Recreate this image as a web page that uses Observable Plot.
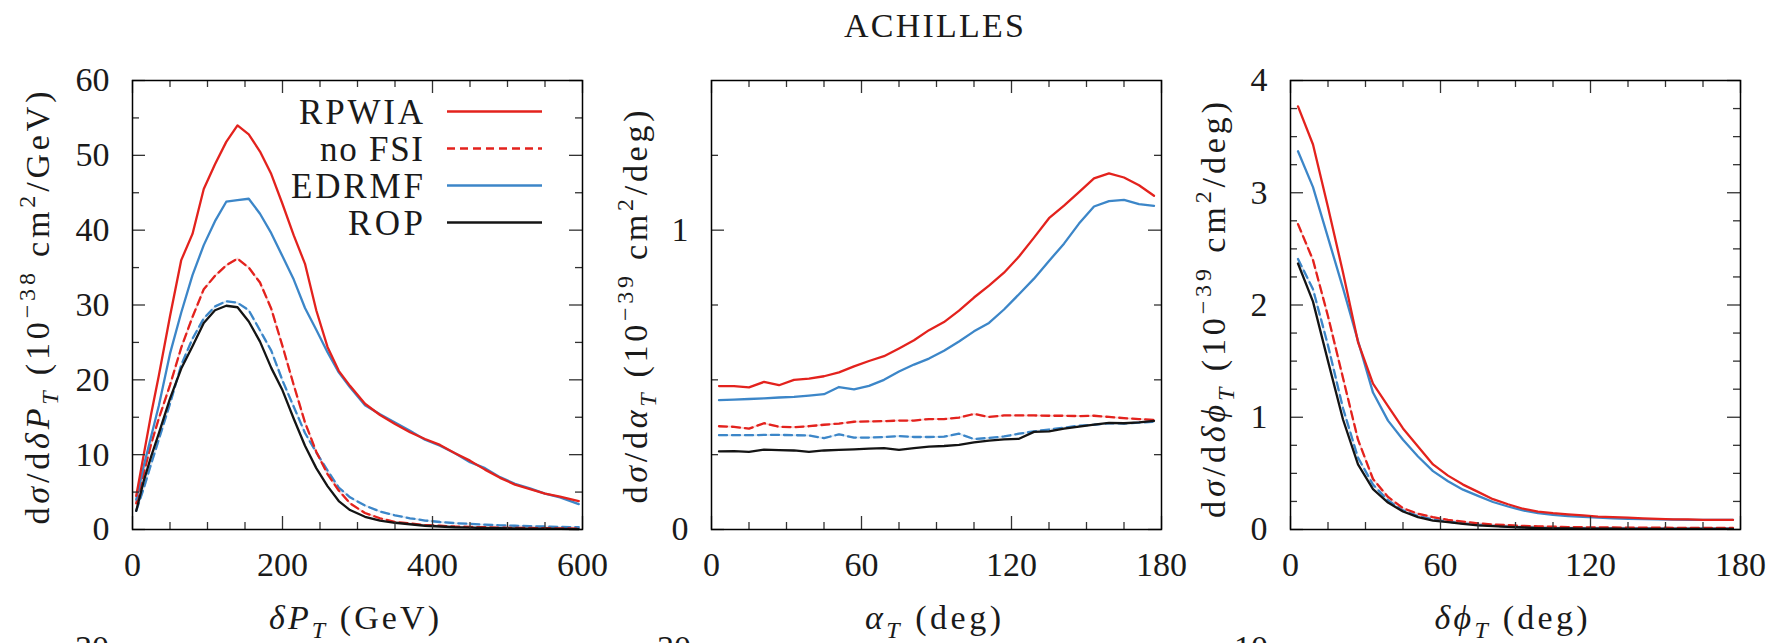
<!DOCTYPE html>
<html>
<head>
<meta charset="utf-8">
<script src="https://cdn.jsdelivr.net/npm/d3@7"></script>
<script src="https://cdn.jsdelivr.net/npm/@observablehq/plot@0.6"></script>
<style>
  html, body { margin: 0; padding: 0; background: #fff; }
  #fig { position: relative; width: 1766px; height: 643px; overflow: hidden; background: #fff; }
  #fig svg text, #fig svg tspan { font-family: "Liberation Serif", serif !important; }
</style>
</head>
<body>
<div id="fig"></div>
<script>
// ---------------- data ----------------
// Panel 1: delta P_T (GeV)
const ptX = [5,15,25,35,50,65,80,95,110,125,140,155,170,185,200,215,230,245,260,275,290,310,330,350,370,390,410,430,450,470,490,510,530,550,570,595];
const ptRPWIA = [4.5,10,15.5,20.5,28.5,36,39.5,45.5,48.8,51.8,54,52.8,50.5,47.5,43.5,39.3,35.5,29.3,24.4,21.2,19.2,16.8,15.3,14.1,13.0,12.1,11.3,10.2,9.2,8.0,6.9,6.0,5.4,4.8,4.4,3.8];
const ptNoFSI = [3.5,7.5,11.5,14.8,19.3,24.3,28.4,32.1,33.9,35.3,36.2,35.0,33.0,29.5,24.5,19.3,14.3,10.4,7.4,5.2,3.5,2.2,1.5,1.0,0.8,0.6,0.5,0.4,0.35,0.3,0.25,0.22,0.2,0.18,0.15,0.12];
const ptEDRMF = [4,8.5,12.5,16.5,23.5,29,34,38,41.2,43.8,44.0,44.2,42.2,39.6,36.5,33.4,29.6,26.7,23.7,21.0,19,16.6,15.4,14.3,13.2,12.0,11.2,10.2,9.0,8.2,7.0,6.1,5.5,4.8,4.3,3.4];
const ptEDRMFnoFSI = [2.5,5.5,8.8,12,16.8,22,25.5,28.2,29.8,30.5,30.3,29.3,26.6,23.9,19.9,16.4,12.9,10.3,7.9,5.6,4.3,3.2,2.4,1.9,1.5,1.2,1.0,0.85,0.75,0.65,0.55,0.5,0.45,0.4,0.35,0.3];
const ptROP = [2.5,6.5,9.8,12.8,17.5,21.5,24.5,27.6,29.3,29.9,29.7,27.8,25.1,21.6,18.6,14.8,11.2,8.2,5.8,3.8,2.6,1.7,1.2,0.9,0.7,0.5,0.4,0.3,0.25,0.2,0.17,0.14,0.12,0.1,0.08,0.06];

// Panel 2: alpha_T (deg)
const aX = [3,9,15,21,27,33,39,45,51,57,63,69,75,81,87,93,99,105,111,117,123,129,135,141,147,153,159,165,171,177];
const aRPWIA = [0.479,0.479,0.475,0.493,0.482,0.500,0.504,0.512,0.525,0.545,0.563,0.579,0.605,0.632,0.666,0.693,0.731,0.775,0.815,0.858,0.912,0.975,1.040,1.082,1.127,1.173,1.190,1.176,1.150,1.115];
const aNoFSI = [0.345,0.343,0.337,0.355,0.343,0.342,0.345,0.350,0.354,0.360,0.361,0.362,0.364,0.364,0.369,0.369,0.374,0.386,0.376,0.381,0.381,0.381,0.380,0.380,0.379,0.380,0.376,0.372,0.369,0.366];
const aEDRMF = [0.432,0.434,0.436,0.438,0.441,0.443,0.447,0.452,0.476,0.468,0.480,0.500,0.528,0.551,0.571,0.597,0.628,0.662,0.690,0.735,0.786,0.838,0.897,0.955,1.022,1.079,1.097,1.101,1.087,1.081];
const aEDRMFnoFSI = [0.315,0.315,0.315,0.316,0.316,0.315,0.314,0.305,0.318,0.307,0.307,0.309,0.312,0.309,0.309,0.310,0.320,0.302,0.306,0.311,0.320,0.328,0.334,0.340,0.347,0.350,0.355,0.354,0.357,0.360];
const aROP = [0.261,0.262,0.259,0.267,0.265,0.264,0.259,0.264,0.266,0.268,0.270,0.272,0.266,0.272,0.277,0.279,0.283,0.291,0.297,0.301,0.303,0.326,0.328,0.337,0.344,0.350,0.356,0.355,0.358,0.363];

// Panel 3: delta phi_T (deg)
const pX = [3,9,15,21,27,33,39,45,51,57,63,69,75,81,87,93,99,105,111,117,123,129,135,141,147,153,159,165,171,177];
const pRPWIA = [3.77,3.43,2.87,2.29,1.67,1.30,1.10,0.90,0.74,0.58,0.48,0.40,0.335,0.27,0.225,0.185,0.16,0.145,0.135,0.125,0.115,0.11,0.105,0.1,0.095,0.09,0.09,0.085,0.085,0.085];
const pNoFSI = [2.72,2.40,1.90,1.35,0.80,0.45,0.29,0.19,0.14,0.11,0.085,0.07,0.055,0.045,0.038,0.032,0.028,0.025,0.022,0.02,0.019,0.018,0.017,0.016,0.016,0.015,0.015,0.015,0.014,0.014];
const pEDRMF = [3.37,3.05,2.60,2.15,1.68,1.22,0.97,0.80,0.65,0.52,0.43,0.355,0.30,0.245,0.205,0.17,0.145,0.13,0.12,0.112,0.105,0.1,0.095,0.092,0.09,0.088,0.086,0.085,0.085,0.085];
const pEDRMFnoFSI = [2.41,2.14,1.64,1.08,0.64,0.40,0.26,0.17,0.12,0.09,0.07,0.055,0.042,0.033,0.026,0.02,0.016,0.013,0.012,0.011,0.01,0.01,0.009,0.009,0.009,0.008,0.008,0.008,0.008,0.008];
const pROP = [2.37,2.03,1.50,0.98,0.58,0.36,0.24,0.16,0.11,0.08,0.065,0.05,0.037,0.03,0.024,0.018,0.013,0.01,0.009,0.008,0.007,0.007,0.006,0.006,0.005,0.005,0.005,0.005,0.005,0.005];

// tick values
const p1XMajor = [0,200,400,600];
const p1XMinor = [50,100,150,250,300,350,450,500,550];
const p1YMajor = [0,10,20,30,40,50,60];
const p1YMinor = [5,15,25,35,45,55];
const degXMajor = [0,60,120,180];
const degXMinor = [15,30,45,75,90,105,135,150,165];
const p2YMajor = [0,1];
const p2YMinor = [0.25,0.5,0.75,1.25];
const p3YMajor = [0,1,2,3,4];
const p3YMinor = [0.25,0.5,0.75,1.25,1.5,1.75,2.25,2.5,2.75,3.25,3.5,3.75];

const legendNames = ["RPWIA","no FSI","EDRMF","ROP"];
const titleText = "ACHILLES";

// ---------------- layout / style ----------------
const FONT = '"Liberation Serif", serif';
const W = 640, H = 643, ML = 132, MR = 58, MT = 80, MB = 114;
const FW = W - ML - MR, FH = H - MT - MB;
const RED = "#e3221d", BLUE = "#3c86c8", BLACK = "#141414";
const TXT = "#1a1a1a";
const LW = 2.3, DASH = "8,5";
const MAJ = 13, MIN = 7, TC = "#333", TW = 1.3;

const styleOf = {
  "RPWIA": {stroke: RED, dash: null},
  "no FSI": {stroke: RED, dash: DASH},
  "EDRMF": {stroke: BLUE, dash: null},
  "EDRMF no FSI": {stroke: BLUE, dash: DASH},
  "ROP": {stroke: BLACK, dash: null}
};
const drawOrder = ["EDRMF no FSI", "no FSI", "EDRMF", "RPWIA", "ROP"];

function seriesMarks(xs, ys) {
  const marks = [];
  for (const name of drawOrder) {
    const arr = ys[name];
    const rows = xs.map((xv, i) => ({x: xv, y: arr[i]}));
    const s = styleOf[name];
    if (s.dash) {
      marks.push(Plot.line(rows, {x: "x", y: "y", stroke: s.stroke, strokeWidth: 2, strokeOpacity: 0.18}));
      marks.push(Plot.line(rows, {x: "x", y: "y", stroke: s.stroke, strokeWidth: LW, strokeDasharray: s.dash}));
    } else {
      marks.push(Plot.line(rows, {x: "x", y: "y", stroke: s.stroke, strokeWidth: LW}));
    }
  }
  return marks;
}

function tickMarks(xMaj, xMin, yMaj, yMin) {
  const o = {stroke: TC, strokeWidth: TW};
  return [
    Plot.ruleX(xMaj, {...o, insetTop: FH - MAJ}),
    Plot.ruleX(xMaj, {...o, insetBottom: FH - MAJ}),
    Plot.ruleX(xMin, {...o, insetTop: FH - MIN}),
    Plot.ruleX(xMin, {...o, insetBottom: FH - MIN}),
    Plot.ruleY(yMaj, {...o, insetRight: FW - MAJ}),
    Plot.ruleY(yMaj, {...o, insetLeft: FW - MAJ}),
    Plot.ruleY(yMin, {...o, insetRight: FW - MIN}),
    Plot.ruleY(yMin, {...o, insetLeft: FW - MIN})
  ];
}

function rich(textSel, parts, size) {
  let shift = 0;
  for (const p of parts) {
    const target = p.sub ? 0.25 * size : p.sup ? -0.42 * size : 0;
    const ts = textSel.append("tspan").text(p.t);
    if (target !== shift) { ts.attr("dy", target - shift); shift = target; }
    if (p.sub || p.sup) ts.attr("font-size", Math.round(size * 0.7));
    if (p.i) ts.attr("font-style", "italic");
  }
}

function makePanel(cfg) {
  const svg = Plot.plot({
    width: W, height: H,
    marginLeft: ML, marginRight: MR, marginTop: MT, marginBottom: MB,
    x: {domain: cfg.xDomain},
    y: {domain: cfg.yDomain},
    style: {position: "absolute", left: cfg.left + "px", top: "0px", fontFamily: FONT, fontSize: "34px", color: TXT, background: "transparent"},
    marks: [
      ...seriesMarks(cfg.xs, cfg.ys),
      ...tickMarks(cfg.xMaj, cfg.xMin, cfg.yMaj, cfg.yMin),
      Plot.axisX(cfg.xMaj, {anchor: "bottom", tickSize: 0, tickPadding: 22, label: null, tickFormat: d => String(d), fill: TXT}),
      Plot.axisY(cfg.yMaj, {anchor: "left", tickSize: 0, tickPadding: 23, label: null, tickFormat: d => String(d), fill: TXT}),
      Plot.frame({stroke: "#000", strokeWidth: 1.5})
    ]
  });
  document.getElementById("fig").appendChild(svg);
  const g = d3.select(svg).append("g").attr("font-family", FONT).attr("fill", TXT);
  // y label (rotated)
  const yl = g.append("text")
    .attr("transform", `translate(${ML + cfg.yLabDx + 11},${cfg.yLabCy}) rotate(-90)`)
    .attr("text-anchor", "middle").attr("font-size", 34)
    .attr("textLength", cfg.yLabLen).attr("lengthAdjust", "spacing");
  rich(yl, cfg.yLab, 34);
  // x label
  const xl = g.append("text")
    .attr("x", ML + FW / 2 + cfg.xLabDx).attr("y", 629)
    .attr("text-anchor", "middle").attr("font-size", 34)
    .attr("textLength", cfg.xLabLen).attr("lengthAdjust", "spacing");
  rich(xl, cfg.xLab, 34);
  // top of the tick label of the row below, cut by the image edge as in the reference
  g.append("text").attr("x", ML - cfg.cutDx).attr("y", 659).attr("text-anchor", "end")
    .attr("font-size", 34).text(cfg.cutText);
  return {svg, g};
}

// ---------------- panels ----------------
const P1 = makePanel({
  left: 0, xDomain: [0, 600], yDomain: [0, 60],
  xs: ptX, ys: {"RPWIA": ptRPWIA, "no FSI": ptNoFSI, "EDRMF": ptEDRMF, "EDRMF no FSI": ptEDRMFnoFSI, "ROP": ptROP},
  xMaj: p1XMajor, xMin: p1XMinor, yMaj: p1YMajor, yMin: p1YMinor,
  yLabDx: -94, yLabCy: 308, yLabLen: 433,
  yLab: [{t: "d"}, {t: "σ", i: true}, {t: "/d"}, {t: "δP", i: true}, {t: "T", i: true, sub: true}, {t: " (10"}, {t: "−38", sup: true}, {t: " cm"}, {t: "2", sup: true}, {t: "/GeV)"}],
  xLabDx: -3, xLabLen: 170,
  xLab: [{t: "δP", i: true}, {t: "T", i: true, sub: true}, {t: " (GeV)"}],
  cutDx: 23, cutText: "30"
});

const P2 = makePanel({
  left: 579, xDomain: [0, 180], yDomain: [0, 1.5],
  xs: aX, ys: {"RPWIA": aRPWIA, "no FSI": aNoFSI, "EDRMF": aEDRMF, "EDRMF no FSI": aEDRMFnoFSI, "ROP": aROP},
  xMaj: degXMajor, xMin: degXMinor, yMaj: p2YMajor, yMin: p2YMinor,
  yLabDx: -75, yLabCy: 307, yLabLen: 393,
  yLab: [{t: "d"}, {t: "σ", i: true}, {t: "/d"}, {t: "α", i: true}, {t: "T", i: true, sub: true}, {t: " (10"}, {t: "−39", sup: true}, {t: " cm"}, {t: "2", sup: true}, {t: "/deg)"}],
  xLabDx: -3, xLabLen: 136,
  xLab: [{t: "α", i: true}, {t: "T", i: true, sub: true}, {t: " (deg)"}],
  cutDx: 20, cutText: "30"
});

const P3 = makePanel({
  left: 1158, xDomain: [0, 180], yDomain: [0, 4],
  xs: pX, ys: {"RPWIA": pRPWIA, "no FSI": pNoFSI, "EDRMF": pEDRMF, "EDRMF no FSI": pEDRMFnoFSI, "ROP": pROP},
  xMaj: degXMajor, xMin: degXMinor, yMaj: p3YMajor, yMin: p3YMinor,
  yLabDx: -76, yLabCy: 310, yLabLen: 416,
  yLab: [{t: "d"}, {t: "σ", i: true}, {t: "/d"}, {t: "δϕ", i: true}, {t: "T", i: true, sub: true}, {t: " (10"}, {t: "−39", sup: true}, {t: " cm"}, {t: "2", sup: true}, {t: "/deg)"}],
  xLabDx: -4, xLabLen: 153,
  xLab: [{t: "δϕ", i: true}, {t: "T", i: true, sub: true}, {t: " (deg)"}],
  cutDx: 22, cutText: "10"
});

// title above middle panel
P2.g.append("text").attr("x", 934 - 579).attr("y", 37).attr("text-anchor", "middle")
  .attr("font-size", 34).attr("textLength", 180).attr("lengthAdjust", "spacing").text(titleText);

// legend inside first panel (top right)
const legendLens = {"RPWIA": 124, "no FSI": 103, "EDRMF": 132, "ROP": 75};
legendNames.forEach((name, i) => {
  const cy = MT + 31.5 + i * 37;
  const s = styleOf[name];
  P1.g.append("text").attr("x", ML + 291).attr("y", cy + 12).attr("text-anchor", "end")
    .attr("font-size", 35).attr("textLength", legendLens[name]).attr("lengthAdjust", "spacing").text(name);
  const ln = P1.g.append("line").attr("x1", ML + 315).attr("x2", ML + 410).attr("y1", cy).attr("y2", cy)
    .attr("stroke", s.stroke).attr("stroke-width", LW);
  if (s.dash) ln.attr("stroke-dasharray", DASH);
});
</script>
</body>
</html>
